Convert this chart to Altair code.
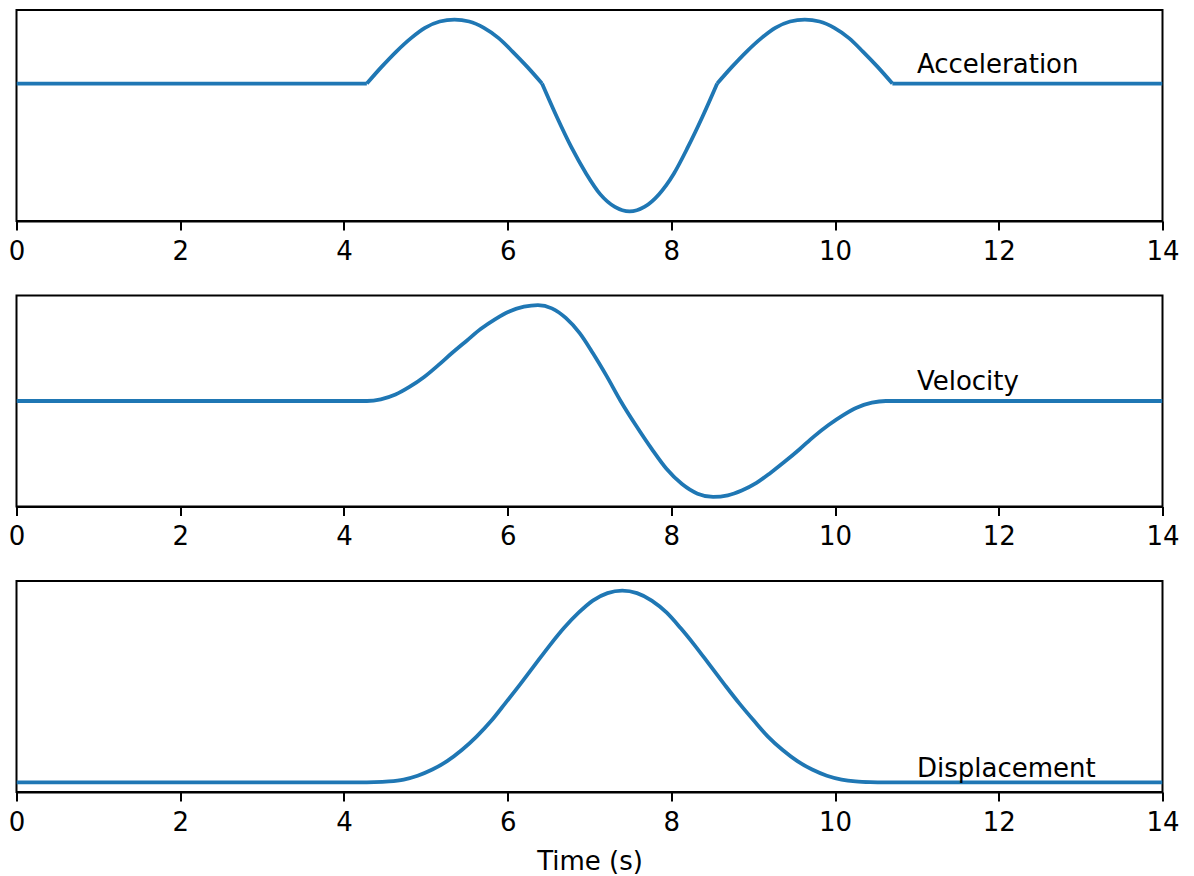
import altair as alt
import pandas as pd

# ---- Acceleration (time in s, value) ----
acc_time = [0.0,
            4.28, 4.46, 4.64, 4.82, 4.99, 5.17, 5.35, 5.53, 5.71, 5.89, 6.06, 6.24, 6.42,
            6.60, 6.78, 6.96, 7.13, 7.31, 7.49, 7.67, 7.85, 8.03, 8.20, 8.38, 8.56,
            8.74, 8.92, 9.10, 9.27, 9.45, 9.63, 9.81, 9.99, 10.17, 10.34, 10.52, 10.70,
            14.0]
acceleration = [0,
                0, 0.26, 0.5, 0.71, 0.87, 0.97, 1.0, 0.97, 0.87, 0.71, 0.5, 0.26, 0,
                -0.52, -1.0, -1.41, -1.73, -1.93, -2.0, -1.93, -1.73, -1.41, -1.0, -0.52, 0,
                0.26, 0.5, 0.71, 0.87, 0.97, 1.0, 0.97, 0.87, 0.71, 0.5, 0.26, 0,
                0]
# indices where the acceleration trace has a corner
acc_corners = [1, 13, 25, 37]

# ---- Velocity ----
vel_time = [0.0,
            4.28, 4.45, 4.63, 4.80, 4.98, 5.15, 5.32, 5.50, 5.67, 5.85, 6.02, 6.20, 6.37,
            6.54, 6.71, 6.88, 7.04, 7.21, 7.38,
            7.57, 7.76, 7.94, 8.13, 8.32, 8.51,
            8.69, 8.86, 9.04, 9.21, 9.39, 9.57, 9.74, 9.92, 10.10, 10.27, 10.45, 10.62,
            14.0]
velocity = [0,
            0, 0.017, 0.067, 0.146, 0.25, 0.371, 0.5, 0.629, 0.75, 0.854, 0.933, 0.983, 1.0,
            0.966, 0.866, 0.707, 0.5, 0.259, 0,
            -0.259, -0.5, -0.707, -0.866, -0.966, -1.0,
            -0.983, -0.933, -0.854, -0.75, -0.629, -0.5, -0.371, -0.25, -0.146, -0.067, -0.017, 0,
            0]

# ---- Displacement ----
disp_time = [0.0,
             4.19, 4.37, 4.55, 4.73, 4.90, 5.08, 5.26, 5.44, 5.62, 5.80, 5.97, 6.15, 6.33,
             6.51, 6.69, 6.87, 7.04, 7.22, 7.40, 7.58, 7.76, 7.94, 8.11, 8.29, 8.47,
             8.65, 8.83, 9.01, 9.18, 9.36, 9.54, 9.72, 9.90, 10.08, 10.25, 10.43, 10.61,
             14.0]
displacement = [0,
                0, 0.001, 0.005, 0.015, 0.035, 0.067, 0.111, 0.169, 0.239, 0.321, 0.412, 0.510, 0.611,
                0.712, 0.806, 0.886, 0.948, 0.987, 1.0, 0.987, 0.948, 0.886, 0.806, 0.712, 0.611,
                0.510, 0.412, 0.321, 0.239, 0.169, 0.111, 0.067, 0.035, 0.015, 0.005, 0.001, 0,
                0]

panel_labels = ["Acceleration", "Velocity", "Displacement"]
label_time = [11.0, 11.0, 11.0]
label_level = [0.157, 0.115, 0.026]
y_domains = [[-2.15, 1.15], [-1.1, 1.1], [-0.05, 1.05]]
x_ticks = [0, 2, 4, 6, 8, 10, 12, 14]

FONT = "DejaVu Sans"
BLUE = "#1f77b4"


def segmented(times, values, corners):
    """Split a trace into pieces at its corners (corner points shared by both pieces)."""
    cuts = [0] + corners + [len(values) - 1]
    rows = []
    for s in range(len(cuts) - 1):
        for i in range(cuts[s], cuts[s + 1] + 1):
            rows.append({"t": times[i], "v": values[i], "seg": s, "order": i})
    return pd.DataFrame(rows)


def panel(df, label, lt, ll, dom, show_title):
    lab = pd.DataFrame({"t": [lt], "v": [ll], "label": [label]})
    x = alt.X(
        "t:Q",
        scale=alt.Scale(domain=[0, 14], nice=False, zero=False),
        axis=alt.Axis(values=x_ticks, format="d", title="Time (s)" if show_title else None),
    )
    y = alt.Y("v:Q", scale=alt.Scale(domain=dom, nice=False, zero=False), axis=None)
    line = alt.Chart(df).mark_line(
        color=BLUE, strokeWidth=3.8, clip=True, interpolate="monotone", strokeJoin="round"
    ).encode(x=x, y=y, detail="seg:N", order="order:Q")
    txt = alt.Chart(lab).mark_text(
        align="left", baseline="alphabetic", fontSize=26, font=FONT, color="black"
    ).encode(x=x, y=y, text="label:N")
    return alt.layer(line, txt).properties(width=1146, height=211)


frames = [
    segmented(acc_time, acceleration, acc_corners),
    segmented(vel_time, velocity, []),
    segmented(disp_time, displacement, []),
]
charts = []
for i in range(3):
    charts.append(panel(frames[i], panel_labels[i], label_time[i], label_level[i], y_domains[i], i == 2))

chart = alt.vconcat(*charts, spacing=74.5, bounds="flush").properties(
    padding={"left": 6.5, "top": 9, "right": 5, "bottom": 5},
    background="white",
).configure_view(
    stroke="black", strokeWidth=2
).configure_axis(
    grid=False,
    labelFont=FONT, labelFontSize=26, labelColor="black", labelPadding=8, labelFlush=False,
    tickColor="black", tickWidth=2, tickSize=9,
    domainColor="black", domainWidth=2,
    titleFont=FONT, titleFontSize=26, titleFontWeight="normal", titleColor="black", titlePadding=13,
)

chart.save("out.html", embed_options={"renderer": "svg", "actions": False})
